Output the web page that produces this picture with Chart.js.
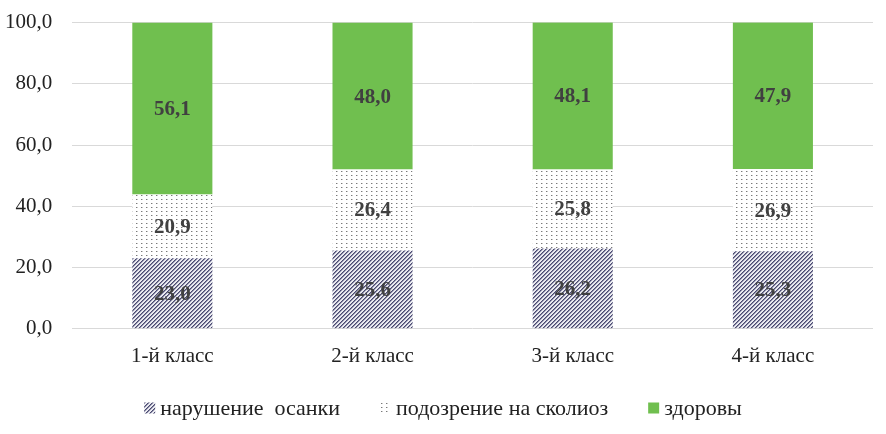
<!DOCTYPE html>
<html>
<head>
<meta charset="utf-8">
<script src="https://cdn.jsdelivr.net/npm/chart.js@4"></script>
<style>
  html, body { margin: 0; padding: 0; background: #fff; overflow: hidden; }
  /* the y axis keeps ~30px above the top tick, so lift the canvas a bit */
  #wrap { width: 886px; height: 444px; margin-top: -10px; }
</style>
</head>
<body>
<div id="wrap"><canvas id="chart"></canvas></div>
<script>
const categories = ["1-й класс", "2-й класс", "3-й класс", "4-й класс"];
const seriesNames = ["нарушение  осанки", "подозрение на сколиоз", "здоровы"];
const posture = [23.0, 25.6, 26.2, 25.3];
const scoliosis = [20.9, 26.4, 25.8, 26.9];
const healthy = [56.1, 48.0, 48.1, 47.9];
const yTicks = [0, 20, 40, 60, 80, 100];

const serif = "'Liberation Serif', 'Times New Roman', serif";
Chart.defaults.font.family = serif;

const fmt = v => v.toFixed(1).replace(".", ",");

// hatched fill for "нарушение осанки"
function hatchPattern() {
  const c = document.createElement("canvas");
  c.width = 4; c.height = 4;
  const g = c.getContext("2d");
  g.fillStyle = "#eaeaf0";
  g.fillRect(0, 0, 4, 4);
  for (let x = 0; x < 4; x++) {
    for (let y = 0; y < 4; y++) {
      const k = (x + y) % 4;
      if (k === 0) { g.fillStyle = "#4a4a70"; g.fillRect(x, y, 1, 1); }
      if (k === 1) { g.fillStyle = "#8a8aa6"; g.fillRect(x, y, 1, 1); }
    }
  }
  return g.createPattern(c, "repeat");
}

// dotted fill for "подозрение на сколиоз"
function dotPattern() {
  const c = document.createElement("canvas");
  c.width = 5; c.height = 4;
  const g = c.getContext("2d");
  g.fillStyle = "#ffffff";
  g.fillRect(0, 0, 5, 4);
  g.fillStyle = "#7a7a7a";
  g.fillRect(1, 1, 1, 1);
  g.fillStyle = "#c8c8c8";
  g.fillRect(2, 1, 1, 1);
  return g.createPattern(c, "repeat");
}

// values in the middle of each segment
const barLabels = {
  id: "barLabels",
  afterDatasetsDraw(chart) {
    const ctx = chart.ctx;
    ctx.save();
    ctx.font = "bold 21px " + serif;
    ctx.fillStyle = "#404040";
    ctx.textAlign = "center";
    ctx.textBaseline = "middle";
    chart.data.datasets.forEach((ds, i) => {
      chart.getDatasetMeta(i).data.forEach((bar, j) => {
        const p = bar.getProps(["x", "y", "base"], true);
        ctx.fillText(fmt(ds.data[j]), p.x, (p.y + p.base) / 2 + 1);
      });
    });
    ctx.restore();
  }
};

// legend like the Excel one: small marker right next to the text
const tightLegend = {
  id: "tightLegend",
  afterDraw(chart) {
    const ctx = chart.ctx;
    ctx.save();
    ctx.font = "22px " + serif;
    ctx.textBaseline = "middle";
    const box = 11, gapIn = 5, gapOut = 40;
    const items = chart.data.datasets.map(ds => ({
      text: ds.label,
      fill: ds.backgroundColor,
      w: ctx.measureText(ds.label).width
    }));
    const total = items.reduce((s, it) => s + box + gapIn + it.w, 0) + gapOut * (items.length - 1);
    let x = (chart.width - total) / 2;
    const y = chart.height - 26;
    items.forEach(it => {
      ctx.fillStyle = it.fill;
      ctx.fillRect(x, y - box / 2, box, box);
      x += box + gapIn;
      ctx.fillStyle = "#222";
      ctx.fillText(it.text, x, y + 1);
      x += it.w + gapOut;
    });
    ctx.restore();
  }
};

new Chart(document.getElementById("chart"), {
  type: "bar",
  data: {
    labels: categories,
    datasets: [
      { label: seriesNames[0], data: posture, backgroundColor: hatchPattern() },
      { label: seriesNames[1], data: scoliosis, backgroundColor: dotPattern() },
      { label: seriesNames[2], data: healthy, backgroundColor: "#70bf4f" }
    ]
  },
  options: {
    responsive: true,
    maintainAspectRatio: false,
    animation: false,
    categoryPercentage: 1,
    barPercentage: 0.4,
    layout: { padding: { left: -15, right: 13, top: 0, bottom: 58 } },
    plugins: {
      tooltip: { enabled: false },
      legend: { display: false }
    },
    scales: {
      x: {
        stacked: true,
        grid: { display: false },
        border: { display: false },
        ticks: {
          color: "#222",
          padding: 7,
          font: { family: serif, size: 21 }
        }
      },
      y: {
        stacked: true,
        min: 0,
        max: 100,
        afterBuildTicks: axis => { axis.ticks = yTicks.map(v => ({ value: v })); },
        grid: { color: "#d9d9d9", lineWidth: 1, drawTicks: false },
        border: { display: false },
        ticks: {
          color: "#222",
          padding: 20,
          callback: v => fmt(v),
          font: { family: serif, size: 21 }
        }
      }
    }
  },
  plugins: [barLabels, tightLegend]
});
</script>
</body>
</html>
